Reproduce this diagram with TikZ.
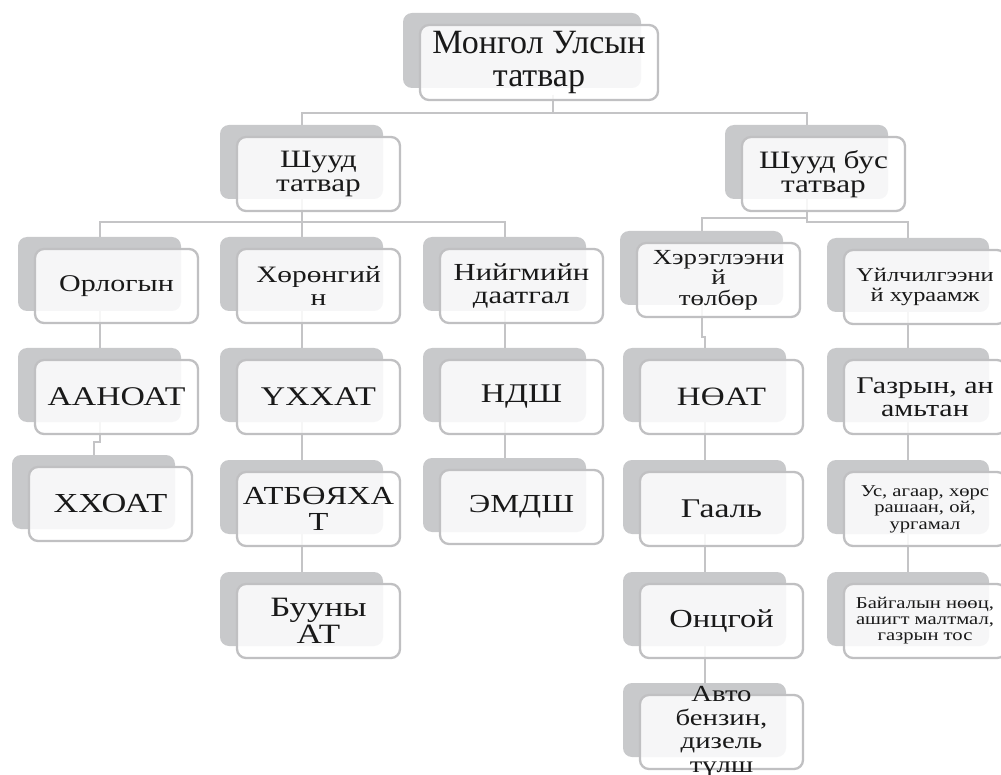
\documentclass[tikz,border=0pt]{standalone}
\usepackage{fontspec}
\setmainfont{Liberation Serif}[FakeStretch=1.25]
\newfontfamily\plainserif{Liberation Serif}
\definecolor{boxgrey}{RGB}{200,201,203}
\definecolor{edgegrey}{RGB}{192,192,194}
\definecolor{linegrey}{RGB}{196,196,198}
\definecolor{ink}{RGB}{25,25,25}
\pgfdeclarelayer{bg}
\pgfsetlayers{bg,main}
\tikzset{
  backbox/.style={fill=boxgrey, rounded corners=9pt, inner sep=0pt, draw=none},
  frontbox/.style={fill=white, fill opacity=0.85, draw=edgegrey, line width=2.3pt, rounded corners=9pt, inner sep=0pt},
  lbl/.style={align=center, inner sep=0pt, text=ink},
  conn/.style={draw=linegrey, line width=2pt},
}
% #1 name, #2 grey x, #3 grey y, #4 width, #5 height, #6 font, #7 text
\newcommand\tb[7]{%
  \node[backbox, minimum width=#4pt, minimum height=#5pt] (#1-b) at ({#2+#4/2},{#3+#5/2}) {};
  \node[frontbox, minimum width=#4pt, minimum height=#5pt, xshift=17pt, yshift=-12pt] (#1-f) at (#1-b.center) {};
  \node[lbl, font=#6] (#1) at (#1-f.center) {#7};
}
\begin{document}
\begin{tikzpicture}[x=1pt,y=-1pt]
\useasboundingbox (0,0) rectangle (1001,775);

% level 0
\tb{top}{403}{13}{238}{75}{\plainserif\fontsize{34}{33}\selectfont}{Монгол Улсын\\татвар}
% level 1
\tb{dir}{220}{125}{163}{74}{\fontsize{25}{24}\selectfont}{Шууд\\татвар}
\tb{ind}{725}{125}{163}{74}{\fontsize{25}{24}\selectfont}{Шууд бус\\татвар}
% level 2
\tb{inc}{18}{237}{163}{74}{\fontsize{24}{22}\selectfont}{Орлогын}
\tb{prop}{220}{237}{163}{74}{\fontsize{23.5}{23}\selectfont}{Хөрөнгий\\н}
\tb{soc}{423}{237}{163}{74}{\fontsize{24.5}{23.5}\selectfont}{Нийгмийн\\даатгал}
\tb{cons}{620}{231}{163}{74}{\fontsize{21.5}{20.5}\selectfont}{Хэрэглээни\\й\\төлбөр}
\tb{serv}{827}{238}{162}{74}{\fontsize{19.5}{20}\selectfont}{Үйлчилгээни\\й хураамж}
% level 3
\tb{aan}{18}{348}{163}{74}{\fontsize{27}{24}\selectfont}{ААНОАТ}
\tb{uxx}{220}{348}{163}{74}{\fontsize{27}{24}\selectfont}{ҮХХАТ}
\tb{nds}{423}{348}{163}{74}{\fontsize{27}{24}\selectfont}{НДШ}
\tb{noat}{623}{348}{163}{74}{\fontsize{26.5}{24}\selectfont}{НӨАТ}
\tb{land}{827}{348}{162}{74}{\fontsize{24}{23}\selectfont}{Газрын, ан\\амьтан}
% level 4
\tb{xxo}{12}{455}{163}{74}{\fontsize{27.5}{24}\selectfont}{ХХОАТ}
\tb{atb}{220}{460}{163}{74}{\fontsize{26}{25.5}\selectfont}{АТБӨЯХА\\Т}
\tb{emd}{423}{458}{163}{74}{\fontsize{26}{24}\selectfont}{ЭМДШ}
\tb{cust}{623}{460}{163}{74}{\fontsize{27}{24}\selectfont}{Гааль}
\tb{water}{827}{460}{162}{74}{\fontsize{16.5}{16.5}\selectfont}{Ус, агаар, хөрс\\рашаан, ой,\\ургамал}
% level 5
\tb{gun}{220}{572}{163}{74}{\fontsize{28}{27}\selectfont}{Бууны\\АТ}
\tb{exc}{623}{572}{163}{74}{\fontsize{26}{24}\selectfont}{Онцгой}
\tb{nat}{827}{572}{162}{74}{\fontsize{16.5}{16}\selectfont}{Байгалын нөөц,\\ашигт малтмал,\\газрын тос}
% level 6
\tb{fuel}{623}{683}{163}{74}{\fontsize{23}{23.5}\selectfont}{Авто\\бензин,\\дизель\\түлш}

\begin{pgfonlayer}{bg}
  \coordinate (rootout) at (553,95);
  \coordinate (busTop) at (0,113);
  \coordinate (busDir) at (0,222);
  \coordinate (busIndL) at (0,218);
  \coordinate (busIndR) at (0,222);
  \coordinate (jogA) at (0,442);
  \coordinate (jogC) at (0,337);
  \draw[conn] (rootout) -- (rootout |- busTop) -| (dir-b.north);
  \draw[conn] (rootout |- busTop) -| (ind-b.north);
  \draw[conn] (dir-b.center) -- (dir-b.center |- busDir) -| (inc-b.north);
  \draw[conn] (dir-b.center |- busDir) -- (prop-b.north);
  \draw[conn] (dir-b.center |- busDir) -| (soc-b.north);
  \draw[conn] (ind-b.center) -- (ind-b.center |- busIndL) -| (cons-b.north);
  \draw[conn] (ind-b.center) -- (ind-b.center |- busIndR) -| (serv-b.north);
  \draw[conn] (inc-b.center) -- (aan-b.north);
  \draw[conn] (aan-b.center) -- (aan-b.center |- jogA) -| (xxo-b.north);
  \draw[conn] (prop-b.center) -- (uxx-b.north);
  \draw[conn] (uxx-b.center) -- (atb-b.north);
  \draw[conn] (atb-b.center) -- (gun-b.north);
  \draw[conn] (soc-b.center) -- (nds-b.north);
  \draw[conn] (nds-b.center) -- (emd-b.north);
  \draw[conn] (cons-b.center) -- (cons-b.center |- jogC) -| (noat-b.north);
  \draw[conn] (noat-b.center) -- (cust-b.north);
  \draw[conn] (cust-b.center) -- (exc-b.north);
  \draw[conn] (exc-b.center) -- (fuel-b.north);
  \draw[conn] (serv-b.center) -- (land-b.north);
  \draw[conn] (land-b.center) -- (water-b.north);
  \draw[conn] (water-b.center) -- (nat-b.north);
\end{pgfonlayer}
\end{tikzpicture}
\end{document}
